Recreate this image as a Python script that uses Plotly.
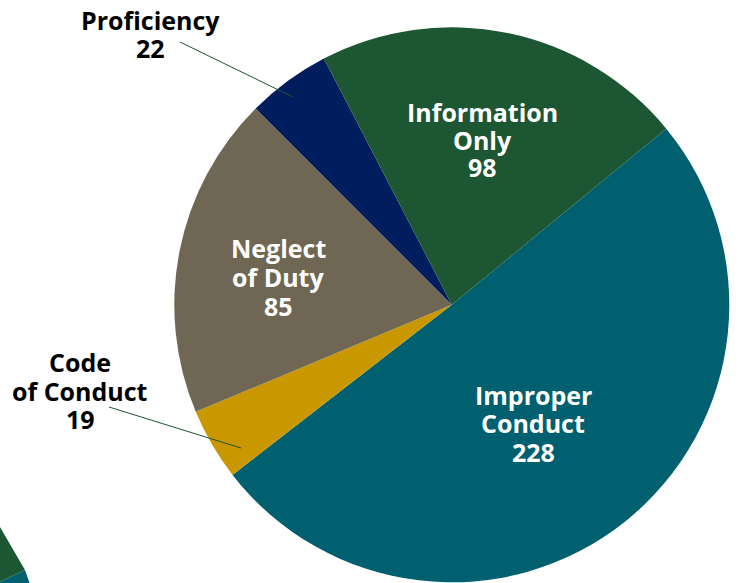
import plotly.graph_objects as go

W, H = 738, 583

categories = ["Improper Conduct", "Code of Conduct", "Neglect of Duty", "Proficiency", "Information Only"]
values = [228, 19, 85, 22, 98]
colors = ["#00606F", "#C99700", "#6F6753", "#001E5E", "#1D5632"]

label_lines = {
    "Improper Conduct": ["Improper", "Conduct"],
    "Code of Conduct": ["Code", "of Conduct"],
    "Neglect of Duty": ["Neglect", "of Duty"],
    "Proficiency": ["Proficiency"],
    "Information Only": ["Information", "Only"],
}
inside = {"Improper Conduct", "Neglect of Duty", "Information Only"}
# label anchor: centre x and first-line y (pixels from top-left), line step
label_pos = {
    "Improper Conduct": (533, 395, 28.5),
    "Code of Conduct": (80, 362, 28.5),
    "Neglect of Duty": (278, 248, 29),
    "Proficiency": (150, 20, 28),
    "Information Only": (483, 112, 27.5),
}
leaders = {
    "Proficiency": ((180, 42), (293, 97)),
    "Code of Conduct": ((109, 407), (241, 448)),
}

cx, cy, r = 451.8, 304.8, 277.5
start_angle = 50.6

fig = go.Figure()
fig.add_trace(go.Pie(
    labels=categories, values=values, sort=False, direction="clockwise",
    rotation=start_angle, textinfo="none", hoverinfo="label+value",
    marker=dict(colors=colors, line=dict(width=0)),
    domain=dict(x=[(cx - r) / W, (cx + r) / W], y=[max(0, (H - cy - r) / H), (H - cy + r) / H]),
    showlegend=False,
))

def px(x):
    return x / W

def py(y):
    return 1 - y / H

annotations = []
shapes = []
for cat, val in zip(categories, values):
    lines = label_lines[cat] + [str(val)]
    x, y, step = label_pos[cat]
    for i, line in enumerate(lines):
        annotations.append(dict(
            x=px(x), y=py(y + i * step), xref="paper", yref="paper",
            text="<b>%s</b>" % line, borderpad=0,
            showarrow=False, align="center", xanchor="center", yanchor="middle",
            font=dict(family="Open Sans", size=25, color="white" if cat in inside else "black"),
        ))
    if cat in leaders:
        (x0, y0), (x1, y1) = leaders[cat]
        shapes.append(dict(type="line", xref="paper", yref="paper",
                           x0=px(x0), y0=py(y0), x1=px(x1), y1=py(y1),
                           line=dict(color="#1D5632", width=1)))

# decorative fragment of a neighbouring chart at bottom-left
shapes.append(dict(type="path", xref="paper", yref="paper",
                   path="M %f %f L %f %f L %f %f L %f %f L %f %f Z" % (
                       px(-5), py(518), px(0), py(527), px(25), py(570), px(-5), py(584), px(-5), py(518)),
                   fillcolor="#1D5632", line=dict(width=0), layer="below"))
shapes.append(dict(type="path", xref="paper", yref="paper",
                   path="M %f %f L %f %f L %f %f L %f %f Z" % (
                       px(25), py(570), px(32), py(590), px(-5), py(590), px(-5), py(584)),
                   fillcolor="#00606F", line=dict(width=0), layer="below"))

fig.update_layout(
    width=W, height=H, margin=dict(l=0, r=0, t=0, b=0),
    paper_bgcolor="white", plot_bgcolor="white",
    annotations=annotations, shapes=shapes,
)
fig.write_html("out.html", config={"displayModeBar": False},
               post_script="document.body.style.margin='0';document.body.style.overflow='hidden';")
